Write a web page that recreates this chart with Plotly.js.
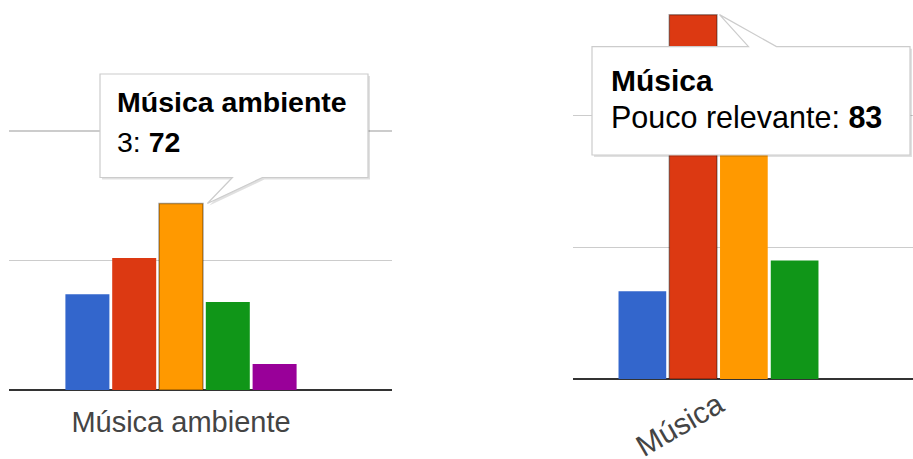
<!DOCTYPE html>
<html>
<head>
<meta charset="utf-8">
<script src="https://cdn.plot.ly/plotly-3.0.1.min.js"></script>
<style>html,body{margin:0;padding:0;background:#fff;}#chart{width:913px;height:459px;}</style>
</head>
<body>
<div id="chart"></div>
<script>
// ---- data ----
const leftCategories = ['Música ambiente'];
const leftSeries = ['1', '2', '3', '4', '5'];
const leftValues = [37, 51, 72, 34, 10];
const leftHover = 2;           // series shown in the tooltip

const rightCategories = ['Música'];
const rightSeries = ['Irrelevante', 'Pouco relevante', 'Relevante', 'Muito relevante'];
const rightValues = [20, 83, 65, 27]; // third value hidden behind tooltip (estimated)
const rightHover = 1;

const colors = ['#3366cc', '#dc3912', '#ff9900', '#109618', '#990099'];

// ---- geometry ----
const W = 913, H = 459;
const FONT = 'Liberation Sans, Arial, sans-serif';
const BARGAP = 0.2, GROUPGAP = 0.06;

const P = {
  left:  {x0: 9,   x1: 392, yBase: 390, yTop: 23, ppu: 2.59, center: 181,   unit: 292.5, dtick: 50},
  right: {x0: 573, x1: 913, yBase: 379, yTop: 0,  ppu: 4.39, center: 718.5, unit: 253.75, dtick: 30}
};
function xRange(p) { const a = -(p.center - p.x0) / p.unit; return [a, a + (p.x1 - p.x0) / p.unit]; }
function yRange(p) { return [0, (p.yBase - p.yTop) / p.ppu]; }
function px2paperX(x) { return x / W; }
function px2paperY(y) { return 1 - y / H; }
// top-right corner of a bar, in pixels
function barTip(p, i, n, v) {
  const slot = (1 - BARGAP) / n;
  const xr = p.center + ((i - (n - 1) / 2) * slot + slot / 2) * p.unit;
  return [xr, p.yBase - v * p.ppu];
}

const traces = [];
leftSeries.forEach((s, i) => traces.push({
  type: 'bar', name: s, x: leftCategories, y: [leftValues[i]], xaxis: 'x', yaxis: 'y',
  marker: {color: colors[i], line: {color: i === leftHover ? 'rgba(0,0,0,0.35)' : 'rgba(0,0,0,0)', width: i === leftHover ? 1.5 : 0}},
  hoverinfo: 'none'
}));
rightSeries.forEach((s, i) => traces.push({
  type: 'bar', name: s, x: rightCategories, y: [rightValues[i]], xaxis: 'x2', yaxis: 'y2',
  marker: {color: colors[i], line: {color: i === rightHover ? 'rgba(0,0,0,0.35)' : 'rgba(0,0,0,0)', width: i === rightHover ? 1.5 : 0}},
  hoverinfo: 'none'
}));

function pathOf(pts) {
  return 'M ' + pts.map(p => px2paperX(p[0]).toFixed(5) + ',' + px2paperY(p[1]).toFixed(5)).join(' L ') + ' Z';
}

// Left tooltip (pointer below the box)
const lt = barTip(P.left, leftHover, leftSeries.length, leftValues[leftHover]);
const lBox = {x0: 100, x1: 368, y0: 74, y1: lt[1] - 26};
const lPts = [[lBox.x0, lBox.y0], [lBox.x1, lBox.y0], [lBox.x1, lBox.y1], [lt[0] + 58, lBox.y1],
              [lt[0] + 3, lt[1]], [lt[0] + 28, lBox.y1], [lBox.x0, lBox.y1]];
// Right tooltip (pointer above the box)
const rt = barTip(P.right, rightHover, rightSeries.length, rightValues[rightHover]);
const rBox = {x0: 592, x1: 910, y0: rt[1] + 32, y1: 155};
const rPts = [[rBox.x0, rBox.y0], [rt[0] + 30, rBox.y0], [rt[0] + 1, rt[1]], [rt[0] + 58, rBox.y0],
              [rBox.x1, rBox.y0], [rBox.x1, rBox.y1], [rBox.x0, rBox.y1]];
const shift = (pts, d) => pts.map(p => [p[0] + d, p[1] + d]);

const shapes = [
  {type: 'path', xref: 'paper', yref: 'paper', path: pathOf(shift(lPts, 2)), fillcolor: 'rgba(0,0,0,0.12)', line: {width: 0}},
  {type: 'path', xref: 'paper', yref: 'paper', path: pathOf(lPts), fillcolor: '#ffffff', line: {color: '#cccccc', width: 1.2}},
  {type: 'path', xref: 'paper', yref: 'paper', path: pathOf(shift(rPts, 2)), fillcolor: 'rgba(0,0,0,0.12)', line: {width: 0}},
  {type: 'path', xref: 'paper', yref: 'paper', path: pathOf(rPts), fillcolor: '#ffffff', line: {color: '#cccccc', width: 1.2}}
];

function ann(x, y, text, size) {
  return {xref: 'paper', yref: 'paper', x: px2paperX(x), y: px2paperY(y), xanchor: 'left', yanchor: 'middle',
          text: text, showarrow: false, align: 'left', font: {family: FONT, size: size, color: '#000'}};
}
const annotations = [
  ann(115, 102, '<b>' + leftCategories[0] + '</b>', 28.5),
  ann(115, 142, leftSeries[leftHover] + ': <b>' + leftValues[leftHover] + '</b>', 28.5),
  ann(609, 80, '<b>' + rightCategories[0] + '</b>', 30),
  ann(609, 117, rightSeries[rightHover] + ': <b>' + rightValues[rightHover] + '</b>', 30.5)
];

function yAxis(p, anchor) {
  return {domain: [px2paperY(p.yBase), px2paperY(p.yTop)], range: yRange(p), anchor: anchor,
          dtick: p.dtick, tick0: 0, showgrid: true, gridcolor: '#cccccc', gridwidth: 1.5,
          zeroline: true, zerolinecolor: '#333333', zerolinewidth: 2,
          showticklabels: false, ticks: '', showline: false, fixedrange: true};
}
function xAxis(p, anchor, angle, size, standoff) {
  return {domain: [px2paperX(p.x0), px2paperX(p.x1)], range: xRange(p), anchor: anchor, type: 'category',
          showgrid: false, zeroline: false, showline: false, ticks: '', tickangle: angle,
          ticklabelstandoff: standoff, automargin: false,
          tickfont: {family: FONT, size: size, color: '#444444'}, fixedrange: true};
}

const layout = {
  width: W, height: H, margin: {l: 0, r: 0, t: 0, b: 0},
  paper_bgcolor: '#ffffff', plot_bgcolor: 'rgba(0,0,0,0)',
  showlegend: false, barmode: 'group', bargap: BARGAP, bargroupgap: GROUPGAP,
  font: {family: FONT},
  xaxis: xAxis(P.left, 'y', 0, 29, 12),
  yaxis: yAxis(P.left, 'x'),
  xaxis2: xAxis(P.right, 'y2', -30, 30, 2),
  yaxis2: yAxis(P.right, 'x2'),
  shapes: shapes,
  annotations: annotations
};

Plotly.newPlot('chart', traces, layout, {staticPlot: true, displayModeBar: false});
</script>
</body>
</html>
